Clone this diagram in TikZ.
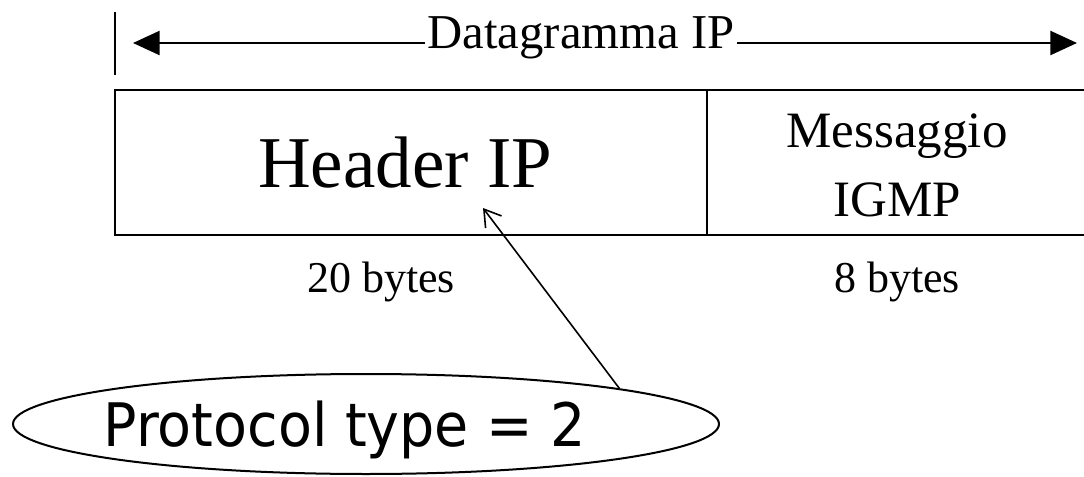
\documentclass[tikz,border=0pt]{standalone}
\usepackage{fontspec}
\setmainfont{Liberation Serif}
\newfontfamily\protofont[FakeStretch=0.925]{DejaVu Sans}
\usetikzlibrary{arrows.meta,shapes.geometric}
\tikzset{
  cell/.style={draw, line width=2.2pt, rectangle, inner sep=0pt},
  lbl/.style={inner sep=0pt, anchor=base},
  dimline/.style={line width=1.8pt, {Triangle[length=20pt,width=18pt]}-{Triangle[length=20pt,width=18pt]}},
  pointer/.style={line width=1.2pt, -{Straight Barb[length=12pt,width=15pt,line width=1.2pt]}},
}
\begin{document}
\begin{tikzpicture}[x=0.75pt,y=-0.75pt]
\useasboundingbox (0,0) rectangle (1084,477);
% top bar and dimension arrow
\coordinate (bartop) at (115,12);
\coordinate (barbot) at (115,75);
\draw[line width=2.2pt] (bartop) -- (barbot);
\coordinate (dl) at (133,43);
\coordinate (dr) at (1077,43);
\draw[dimline] (dl) -- (dr);
\node[lbl, fill=white, inner xsep=2pt] (dgram) at (581,49) {\fontsize{36.5pt}{42pt}\selectfont Datagramma IP};
% cells
\node[cell, minimum width=444pt, minimum height=108.75pt] (hdrcell) at (411,162.5) {};
\node[cell, minimum width=285pt, minimum height=108.75pt] (msgcell) at (897,162.5) {};
\node[lbl] (hdr) at (405,188) {\fontsize{54.75pt}{60pt}\selectfont Header IP};
\node[inner sep=0pt, align=center, anchor=center, font=\fontsize{38.25pt}{51.75pt}\selectfont] (msg) at (897,165) {Messaggio\\IGMP};
\node[lbl] (b20) at (381,292) {\fontsize{33pt}{38pt}\selectfont 20 bytes};
\node[lbl] (b8) at (897,292) {\fontsize{33pt}{38pt}\selectfont 8 bytes};
% ellipse
\node[ellipse, draw, line width=1.5pt, minimum width=529.5pt, minimum height=75pt, inner sep=0pt] (proto) at (366,424) {};
\node[lbl] (ptext) at (345,446) {\protofont\fontsize{45pt}{50pt}\selectfont Protocol type = 2};
\coordinate (tip) at (483,208);
\draw[pointer] (proto.8) -- (tip);
\end{tikzpicture}
\end{document}
